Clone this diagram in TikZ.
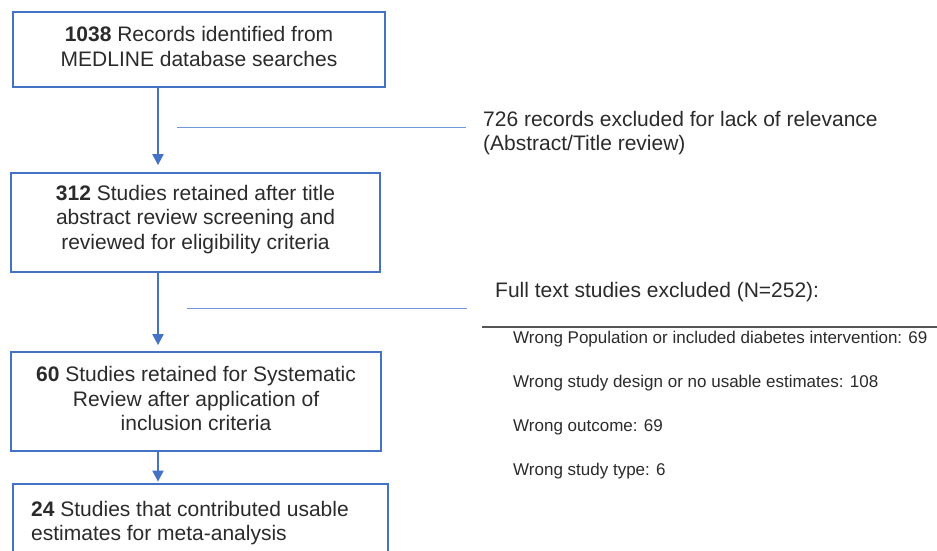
\documentclass[tikz,border=0pt]{standalone}
\usepackage{fontspec}
\setmainfont{Liberation Sans}
\usetikzlibrary{arrows.meta}
\definecolor{boxblue}{HTML}{4472C4}
\definecolor{lineblue}{HTML}{6F97DB}
\definecolor{txt}{HTML}{2B2B2B}
\definecolor{rulegray}{HTML}{555555}
\begin{document}
\begin{tikzpicture}[x=1pt,y=-1pt,
  box/.style={draw=boxblue,line width=1.8pt,inner sep=0pt,fill=white},
  boxtext/.style={text=txt,align=center,inner sep=0pt,font=\fontsize{21}{24.5}\selectfont},
  sidetext/.style={text=txt,align=left,inner sep=0pt,font=\fontsize{21}{24}\selectfont},
  itemtext/.style={text=txt,inner sep=0pt,font=\fontsize{17}{20}\selectfont},
  arr/.style={draw=boxblue,line width=2pt,-{Triangle[width=11pt,length=11pt]}},
  excl/.style={draw=lineblue,line width=1pt},
  hrule/.style={draw=rulegray,line width=1.4pt}
]
\useasboundingbox (0,0) rectangle (937,550);
\fill[white] (0,0) rectangle (937,550);

% boxes
\node[box,minimum width=372pt,minimum height=75pt] (b1) at (199,49.5) {};
\node[box,minimum width=369pt,minimum height=99pt] (b2) at (195.5,222.5) {};
\node[box,minimum width=370pt,minimum height=99pt] (b3) at (196,401.5) {};
\node[box,minimum width=375pt,minimum height=80pt] (b4) at (200.5,524) {};

% box texts
\node[boxtext,yshift=3pt] (t1) at (b1.center) {\textbf{1038} Records identified from\\MEDLINE database searches};
\node[boxtext,yshift=3pt] (t2) at (b2.center) {\textbf{312} Studies retained after title\\abstract review screening and\\reviewed for eligibility criteria};
\node[boxtext,yshift=3pt] (t3) at (b3.center) {\textbf{60} Studies retained for Systematic\\Review after application of\\inclusion criteria};
\node[sidetext,anchor=north west] (t4) at (31,501) {\textbf{24} Studies that contributed usable\\estimates for meta-analysis};

% arrows
\coordinate (ax) at (158,0);
\draw[arr,shorten >=7pt] (b1.south -| ax) -- (b2.north -| ax);
\draw[arr,shorten >=6pt] (b2.south -| ax) -- (b3.north -| ax);
\draw[arr,shorten >=1.5pt] (b3.south -| ax) -- (b4.north -| ax);

% exclusion texts
\node[sidetext,anchor=north west] (e1) at (483,111) {726 records excluded for lack of relevance\\(Abstract/Title review)};
\node[sidetext,anchor=base west] (e2) at (495,297) {Full text studies excluded (N=252):};
\node[itemtext,anchor=base west] (i1) at (513,343) {Wrong Population or included diabetes intervention: 69};
\node[itemtext,anchor=base west] (i2) at (513,387) {Wrong study design or no usable estimates: 108};
\node[itemtext,anchor=base west] (i3) at (513,431) {Wrong outcome: 69};
\node[itemtext,anchor=base west] (i4) at (513,475) {Wrong study type: 6};

% exclusion lines
\coordinate (l1) at (177,127);
\coordinate (l2) at (187,308);
\draw[excl] (l1) -- ([xshift=-17pt]l1 -| e1.west);
\draw[excl] (l2) -- ([xshift=-28pt]l2 -| e2.west);
\coordinate (r1) at (482,327);
\draw[hrule] (r1) -- (r1 -| 937,0);
\end{tikzpicture}
\end{document}
